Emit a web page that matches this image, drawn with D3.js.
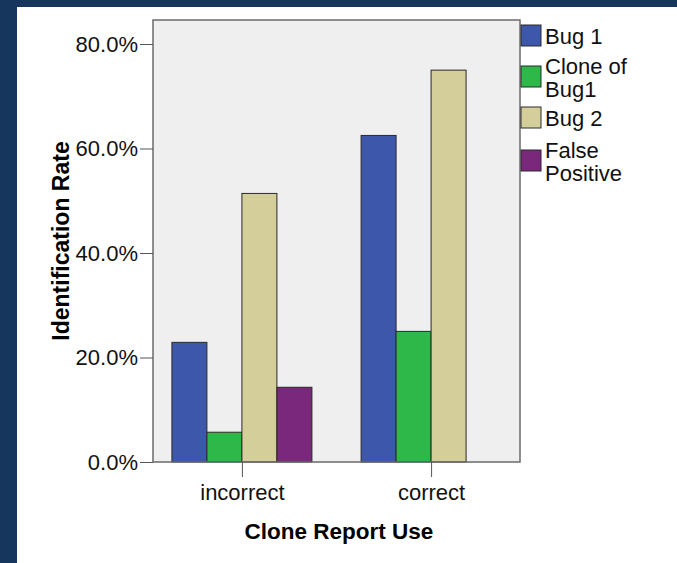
<!DOCTYPE html>
<html>
<head>
<meta charset="utf-8">
<script src="https://cdn.jsdelivr.net/npm/d3@7"></script>
<style>
  body { margin: 0; background: #17365d; }
  svg { display: block; }
</style>
</head>
<body>
<script>
var groups = ['incorrect', 'correct']
var series = ['Bug 1', 'Clone of Bug1', 'Bug 2', 'False Positive']
var legendLines = [['Bug 1'], ['Clone of', 'Bug1'], ['Bug 2'], ['False', 'Positive']]
var colors = ['#3d58ab', '#2fb84a', '#d4cf9a', '#7a287b']
// rates per group, in series order
var incorrectVals = [0.229, 0.057, 0.514, 0.143]
var correctVals = [0.625, 0.25, 0.75, 0]
var yTicks = [0, 0.2, 0.4, 0.6, 0.8]

var w = 677
var h = 563
// plot frame (note: "top" is taken by window.top, so use other names)
var pLeft = 153, pRight = 520, pTop = 20, pBottom = 462

var svg = d3.select('body')
  .append('svg')
  .attr('width', w)
  .attr('height', h)

// dark frame round the picture
svg.append('rect').attr('width', w).attr('height', h).attr('fill', '#17365d')
svg.append('rect').attr('x', 17).attr('y', 7).attr('width', w - 17).attr('height', h - 7).attr('fill', '#fff')

var font = 'Liberation Sans, Arial, sans-serif'

var y = d3.scaleLinear().domain([0, 0.8]).range([pBottom, pBottom - 4 * 104.5])
var x0 = d3.scalePoint().domain(groups).range([pLeft, pRight]).padding(0.47)
var x1 = d3.scaleBand().domain(series).range([-70, 70])

// plot background
svg.append('rect')
  .attr('x', pLeft).attr('y', pTop)
  .attr('width', pRight - pLeft).attr('height', pBottom - pTop)
  .attr('fill', '#efefef')

var data = []
groups.forEach(function(g, gi) {
  var vals = gi === 0 ? incorrectVals : correctVals
  series.forEach(function(s, si) {
    data.push({ group: g, series: s, value: vals[si], color: colors[si] })
  })
})

svg.selectAll('rect.bar')
  .data(data)
  .enter()
  .append('rect')
  .attr('class', 'bar')
  .attr('x', function(d) { return x0(d.group) + x1(d.series) })
  .attr('y', function(d) { return y(d.value) })
  .attr('width', x1.bandwidth())
  .attr('height', function(d) { return y(0) - y(d.value) })
  .attr('fill', function(d) { return d.color })
  .attr('stroke', '#2a2a2a')
  .attr('stroke-width', 1)

// frame on top of bars
svg.append('rect')
  .attr('x', pLeft).attr('y', pTop)
  .attr('width', pRight - pLeft).attr('height', pBottom - pTop)
  .attr('fill', 'none')
  .attr('stroke', '#6b6b6b')
  .attr('stroke-width', 1.5)

// y axis
var yAxis = svg.append('g')
  .attr('transform', 'translate(' + pLeft + ',0)')
  .call(d3.axisLeft(y).tickValues(yTicks).tickFormat(d3.format('.1%')).tickSize(13).tickPadding(2))
yAxis.select('.domain').remove()
yAxis.selectAll('line').attr('stroke', '#555')
yAxis.selectAll('text').attr('font-family', font).attr('font-size', '22px').attr('fill', '#111')

// x axis
var xAxis = svg.append('g')
  .attr('transform', 'translate(0,' + pBottom + ')')
  .call(d3.axisBottom(x0).tickSize(15).tickPadding(7))
xAxis.select('.domain').remove()
xAxis.selectAll('line').attr('stroke', '#555')
xAxis.selectAll('text').attr('font-family', font).attr('font-size', '22px').attr('fill', '#111')

// axis titles
svg.append('text')
  .text('Clone Report Use')
  .attr('x', 339).attr('y', 539)
  .attr('text-anchor', 'middle')
  .attr('font-family', font).attr('font-size', '22.5px').attr('font-weight', 'bold')

svg.append('text')
  .text('Identification Rate')
  .attr('transform', 'translate(69,241) rotate(-90)')
  .attr('text-anchor', 'middle')
  .attr('font-family', font).attr('font-size', '23px').attr('font-weight', 'bold')

// legend
var legendY = [25, 66, 107, 150]
var leg = svg.selectAll('g.leg')
  .data(series)
  .enter()
  .append('g')
  .attr('class', 'leg')
  .attr('transform', function(d, i) { return 'translate(521,' + legendY[i] + ')' })

leg.append('rect')
  .attr('width', 20).attr('height', 21)
  .attr('fill', function(d, i) { return colors[i] })
  .attr('stroke', '#2a2a2a')

leg.each(function(d, i) {
  var lines = legendLines[i]
  var t = d3.select(this).append('text')
    .attr('font-family', font).attr('font-size', '22px').attr('fill', '#111')
  lines.forEach(function(l, li) {
    t.append('tspan')
      .attr('x', 24)
      .attr('y', 19 + (li - (lines.length - 1) / 2) * 23)
      .text(l)
  })
})
</script>
</body>
</html>
